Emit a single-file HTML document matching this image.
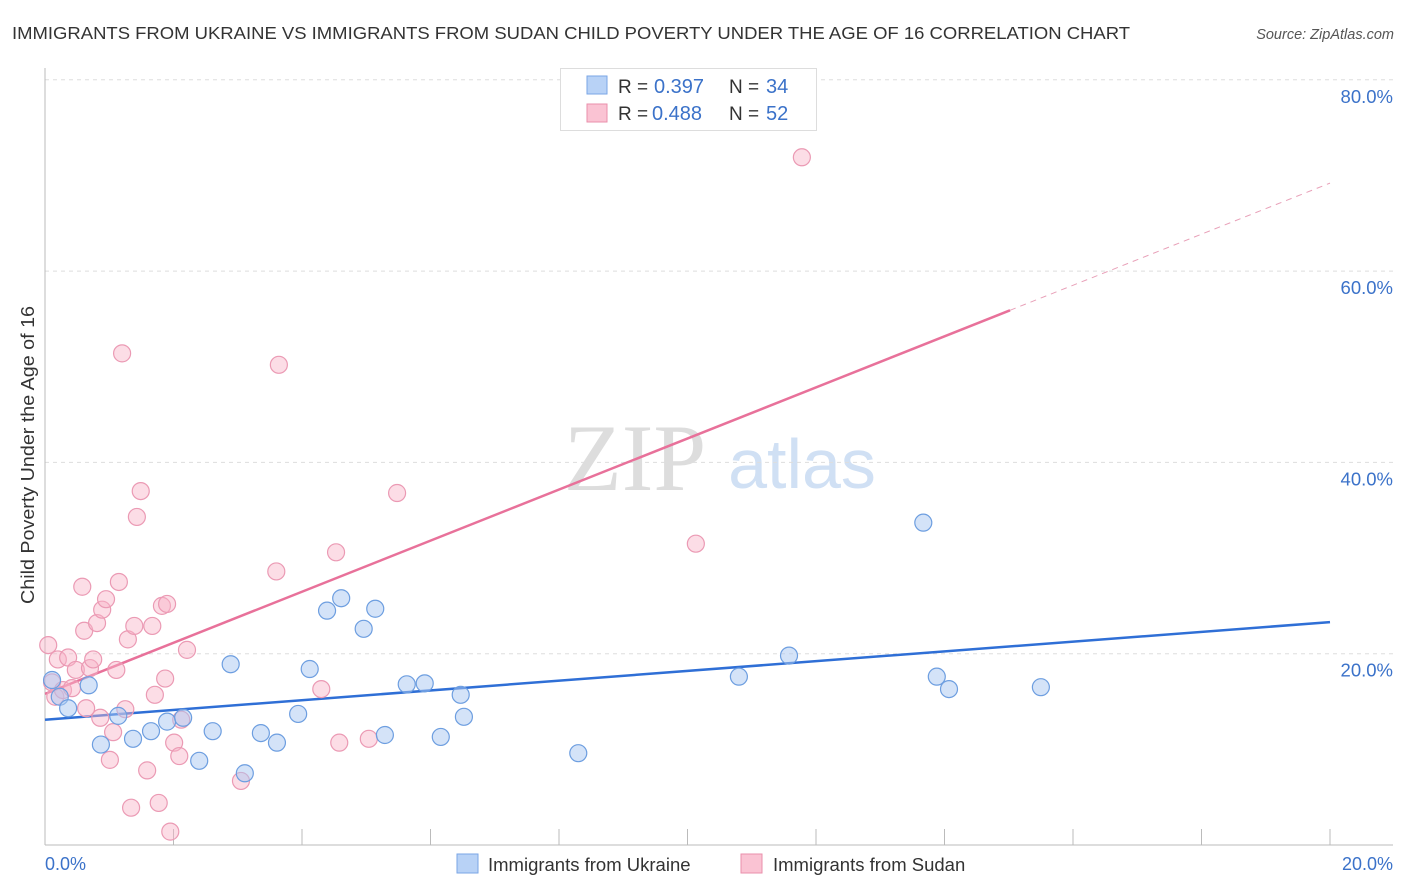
<!DOCTYPE html>
<html><head><meta charset="utf-8"><style>
body{margin:0;background:#fff;font-family:"Liberation Sans",sans-serif;}
svg{display:block}
</style></head><body>
<svg id="chart" width="1406" height="892" xmlns="http://www.w3.org/2000/svg">
<text x="12" y="39" font-size="17.5" fill="#333" textLength="1118" lengthAdjust="spacingAndGlyphs">IMMIGRANTS FROM UKRAINE VS IMMIGRANTS FROM SUDAN CHILD POVERTY UNDER THE AGE OF 16 CORRELATION CHART</text>
<text x="1394" y="39" font-size="14.5" fill="#555" font-style="italic" text-anchor="end">Source: ZipAtlas.com</text>
<text x="635" y="490" font-size="95" fill="#ddd" font-family="Liberation Serif,serif" text-anchor="middle">ZIP</text>
<text x="802" y="488" font-size="70" fill="#d0e0f4" text-anchor="middle">atlas</text>
<text transform="translate(34,455) rotate(-90)" font-size="18.5" fill="#333" text-anchor="middle" textLength="298" lengthAdjust="spacingAndGlyphs">Child Poverty Under the Age of 16</text>
<g id="grid"></g><g id="lines"></g><g id="pts"></g>
<g>
<rect x="560.5" y="68.5" width="256" height="62" fill="#fff" stroke="#ddd"/>
<rect x="587" y="76" width="20" height="18" fill="#b8d2f6" stroke="#7aa6e6"/>
<rect x="587" y="104" width="20" height="18" fill="#fac3d3" stroke="#ea8fab"/>
<text x="618" y="93" font-size="19" fill="#333">R =</text>
<text x="654" y="93" font-size="20" fill="#3b72c9">0.397</text>
<text x="729" y="93" font-size="19" fill="#333">N =</text>
<text x="766" y="93" font-size="20" fill="#3b72c9">34</text>
<text x="618" y="120" font-size="19" fill="#333">R =</text>
<text x="652" y="120" font-size="20" fill="#3b72c9">0.488</text>
<text x="729" y="120" font-size="19" fill="#333">N =</text>
<text x="766" y="120" font-size="20" fill="#3b72c9">52</text>
</g>
<g>
<rect x="457" y="854" width="21" height="19" fill="#b8d2f6" stroke="#7aa6e6"/>
<text x="488" y="871" font-size="18.5" fill="#333">Immigrants from Ukraine</text>
<rect x="741" y="854" width="21" height="19" fill="#fac3d3" stroke="#ea8fab"/>
<text x="773" y="871" font-size="18.5" fill="#333">Immigrants from Sudan</text>
</g>
<text x="45" y="870" font-size="18" fill="#3b72c9">0.0%</text>
<text x="1393" y="870" font-size="18" fill="#3b72c9" text-anchor="end">20.0%</text>
</svg>
<script>
const yTicks=[20,40,60,80];
const xTicks=[0,2,4,6,8,10,12,14,16,18,20];
const ukraineX=[0.11,0.23,0.36,0.68,0.87,1.14,1.37,1.65,1.90,2.15,2.40,2.61,2.89,3.11,3.36,3.61,3.94,4.12,4.39,4.61,4.96,5.14,5.29,5.63,5.91,6.16,6.47,6.52,8.30,10.80,11.58,13.67,13.88,14.07,15.50];
const ukraineY=[17.25,15.5,14.3,16.7,10.5,13.5,11.1,11.9,12.9,13.3,8.8,11.9,18.9,7.5,11.7,10.7,13.7,18.4,24.5,25.8,22.6,24.7,11.5,16.8,16.9,11.3,15.7,13.4,9.6,17.6,19.8,33.7,17.6,16.3,16.5];
const sudanX=[0.05,0.11,0.16,0.20,0.28,0.36,0.42,0.48,0.58,0.61,0.64,0.70,0.75,0.81,0.86,0.89,0.95,1.01,1.06,1.11,1.15,1.20,1.25,1.29,1.34,1.39,1.43,1.49,1.59,1.67,1.71,1.77,1.82,1.87,1.90,1.95,2.01,2.09,2.12,2.21,3.05,3.60,3.64,4.30,4.53,4.58,5.04,5.48,10.13,11.78];
const sudanY=[20.9,17.0,15.5,19.4,16.2,19.6,16.4,18.3,27.0,22.4,14.3,18.5,19.4,23.2,13.3,24.6,25.7,8.9,11.8,18.3,27.5,51.4,14.2,21.5,3.9,22.9,34.3,37.0,7.8,22.9,15.7,4.4,25.0,17.4,25.2,1.4,10.7,9.3,13.1,20.4,6.7,28.6,50.2,16.3,30.6,10.7,11.1,36.8,31.5,71.9];
const ukraineTrend=[13.1,23.3];
const sudanTrend=[15.8,69.2];
const sudanSolidEnd=15.02;
const NS="http://www.w3.org/2000/svg";
const X=v=>45+v*64.25, Y=v=>845-v*9.565;
function mk(t,a,p){const e=document.createElementNS(NS,t);for(const k in a)e.setAttribute(k,a[k]);p.appendChild(e);return e;}
const grid=document.getElementById('grid');
yTicks.forEach(t=>{
 const l=mk('line',{x1:45,x2:1393,y1:Y(t),y2:Y(t),stroke:'#ddd','stroke-dasharray':'4,4'},grid);
 
 
 const tx=mk('text',{x:1393,y:Y(t)+23,'font-size':18.5,fill:'#3b72c9','text-anchor':'end'},grid);
 tx.textContent=t.toFixed(1)+'%';
 
 
});
mk('line',{x1:45,x2:45,y1:68,y2:845,stroke:'#bbb'},grid);
mk('line',{x1:45,x2:1393,y1:845,y2:845,stroke:'#bbb'},grid);
xTicks.forEach(t=>{
 const l=mk('line',{x1:X(t),x2:X(t),y1:829,y2:845,stroke:'#bbb'},grid);
 
 
});
const lines=document.getElementById('lines');
const bl=mk('line',{x1:X(0),y1:Y(ukraineTrend[0]),x2:X(20),y2:Y(ukraineTrend[1]),stroke:'#2f6fd6','stroke-width':2.5},lines);


const sy=v=>sudanTrend[0]+(sudanTrend[1]-sudanTrend[0])*v/20;
const pl=mk('line',{x1:X(0),y1:Y(sy(0)),x2:X(sudanSolidEnd),y2:Y(sy(sudanSolidEnd)),stroke:'#e8719a','stroke-width':2.5},lines);


const pd=mk('line',{x1:X(sudanSolidEnd),y1:Y(sy(sudanSolidEnd)),x2:X(20),y2:Y(sy(20)),stroke:'#e8a0b8','stroke-width':1,'stroke-dasharray':'6,5'},lines);


const pts=document.getElementById('pts');
sudanX.forEach((v,i)=>{
 const c=mk('circle',{cx:X(v),cy:Y(sudanY[i]),r:8.5,fill:'rgba(248,180,200,0.45)',stroke:'#eb9ab4','stroke-width':1.2},pts);
 
 
});
ukraineX.forEach((v,i)=>{
 const c=mk('circle',{cx:X(v),cy:Y(ukraineY[i]),r:8.5,fill:'rgba(170,200,242,0.5)',stroke:'#6d9ee0','stroke-width':1.2},pts);
 
 
});
</script>
</body></html>
